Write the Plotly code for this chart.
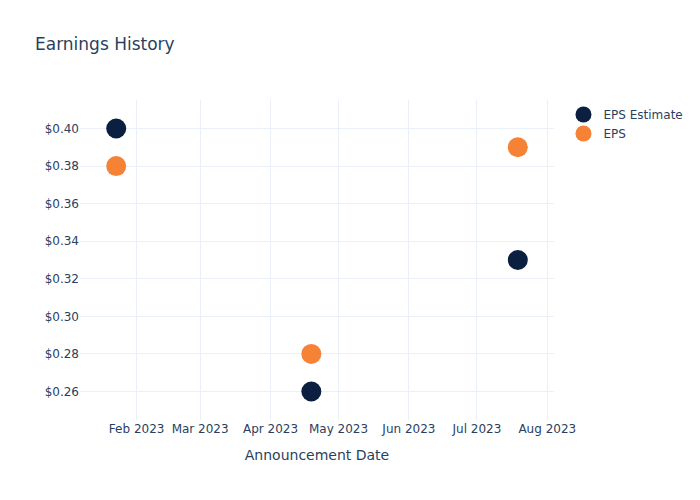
import plotly.graph_objects as go

dates = ["2023-01-23", "2023-04-19", "2023-07-19"]
eps_estimate = [0.40, 0.26, 0.33]
eps_actual = [0.38, 0.28, 0.39]

fig = go.Figure()
fig.add_trace(go.Scatter(x=dates, y=eps_estimate, mode="markers", name="EPS Estimate",
                         marker=dict(color="#0b1f40", size=20)))
fig.add_trace(go.Scatter(x=dates, y=eps_actual, mode="markers", name="EPS",
                         marker=dict(color="#f68235", size=20)))
fig.update_layout(
    template="plotly_white",
    width=700, height=500,
    font=dict(family="DejaVu Sans"),
    title="Earnings History",
    xaxis_title="Announcement Date",
    yaxis=dict(tickprefix="$", tickformat=".2f"),
)
fig.write_html("out.html")
